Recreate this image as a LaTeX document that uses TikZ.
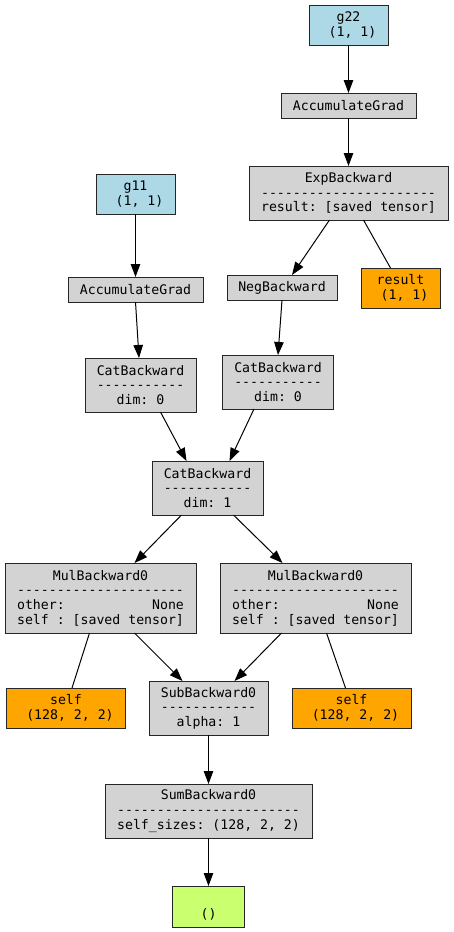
\documentclass[tikz,border=0pt]{standalone}
\usepackage{fontspec}
\setmonofont{DejaVu Sans Mono}
\usepackage{tikz}
\usetikzlibrary{positioning, arrows.meta}

\definecolor{gvgray}{HTML}{D3D3D3}
\definecolor{gvblue}{HTML}{ADD8E6}
\definecolor{gvorange}{HTML}{FFA500}
\definecolor{gvgreen}{HTML}{CAFF70}

\begin{document}
\begin{tikzpicture}[
    font=\ttfamily\fontsize{13.2}{14.6}\selectfont,
    >={Triangle[length=13pt, width=9.5pt]},
    op/.style={
        rectangle, draw=black!85, line width=1pt, fill=gvgray,
        inner sep=0pt, outer sep=0pt, align=center
    },
    leaf/.style={op, fill=gvblue},
    saved/.style={op, fill=gvorange},
    result/.style={op, fill=gvgreen},
    edge/.style={->, line width=1pt},
    link/.style={-, line width=1pt}
]
\useasboundingbox (0pt,0pt) rectangle (453pt,-932pt);

% ============ RIGHT BRANCH (g22) ============
\node[leaf, minimum width=79pt, minimum height=40pt] (g22) at (348.5pt,-25pt)
    {g22\\\phantom{0}(1, 1)};
\node[op, minimum width=135pt, minimum height=25pt, below=48pt of g22] (accR)
    {AccumulateGrad};
\node[op, minimum width=199pt, minimum height=54pt, below=48pt of accR] (exp)
    {ExpBackward\\----------------------\\result: [saved tensor]};
\node[op, minimum width=110pt, minimum height=25pt, below=55pt of exp, xshift=-66.5pt] (neg)
    {NegBackward};
\node[saved, minimum width=79pt, minimum height=40pt, below=48pt of exp, xshift=52pt] (res)
    {result\\\phantom{0}(1, 1)};

% ============ LEFT BRANCH (g11) ============
\node[leaf, minimum width=79pt, minimum height=40pt] (g11) at (135.5pt,-194pt)
    {g11\\\phantom{0}(1, 1)};
\node[op, minimum width=135pt, minimum height=25pt, below=63pt of g11] (accL)
    {AccumulateGrad};

% ============ CONCATENATION ============
\node[op, minimum width=111pt, minimum height=54pt, below=56pt of accL, xshift=5pt] (catL)
    {CatBackward\\-----------\\dim: 0};
\node[op, minimum width=111pt, minimum height=54pt, below=55pt of neg, xshift=-4pt] (catR)
    {CatBackward\\-----------\\dim: 0};
\node[op, minimum width=111pt, minimum height=54pt, below=49pt of catL, xshift=67pt] (cat)
    {CatBackward\\-----------\\dim: 1};

% ============ PRODUCTS AND DIFFERENCE ============
\node[op, minimum width=191pt, minimum height=70pt, below=48pt of cat, xshift=-107pt] (mulL)
    {MulBackward0\\---------------------\\other:\phantom{00000000000}None\\self : [saved tensor]};
\node[op, minimum width=191pt, minimum height=70pt, below=48pt of cat, xshift=108pt] (mulR)
    {MulBackward0\\---------------------\\other:\phantom{00000000000}None\\self : [saved tensor]};
\node[saved, minimum width=119pt, minimum height=40pt, below=55pt of mulL, xshift=-34.5pt] (selfL)
    {self\\\phantom{0}(128, 2, 2)};
\node[op, minimum width=119pt, minimum height=54pt, below=48pt of mulL, xshift=108pt] (sub)
    {SubBackward0\\------------\\alpha: 1};
\node[saved, minimum width=119pt, minimum height=40pt, below=55pt of mulR, xshift=36pt] (selfR)
    {self\\\phantom{0}(128, 2, 2)};

% ============ SUM AND OUTPUT ============
\node[op, minimum width=207pt, minimum height=54pt, below=49pt of sub] (sum)
    {SumBackward0\\-----------------------\\self\_sizes: (128, 2, 2)};
\node[result, minimum width=72pt, minimum height=41pt, below=48pt of sum] (out)
    {\strut\\()};

% ============ EDGES ============
\draw[edge] (g22) -- (accR);
\draw[edge] (accR) -- (exp);
\draw[edge] ([xshift=-19pt]exp.south) -- ([xshift=10pt]neg.north);
\draw[link] ([xshift=15pt]exp.south) -- ([xshift=-10pt]res.north);
\draw[edge] (g11) -- (accL);
\draw[edge] (accL.south) -- ([xshift=-1.5pt]catL.north);
\draw[edge] (neg.south) -- (catR.north);
\draw[edge] ([xshift=20pt]catL.south) -- ([xshift=-21pt]cat.north);
\draw[edge] ([xshift=-24pt]catR.south) -- ([xshift=22pt]cat.north);
\draw[edge] ([xshift=-26pt]cat.south) -- ([xshift=34pt]mulL.north);
\draw[edge] ([xshift=26pt]cat.south) -- ([xshift=-33pt]mulR.north);
\draw[link] ([xshift=-11pt]mulL.south) -- ([xshift=6pt]selfL.north);
\draw[edge] ([xshift=34pt]mulL.south) -- ([xshift=-26pt]sub.north);
\draw[edge] ([xshift=-34pt]mulR.south) -- ([xshift=26pt]sub.north);
\draw[link] ([xshift=11pt]mulR.south) -- ([xshift=-6pt]selfR.north);
\draw[edge] (sub) -- (sum);
\draw[edge] (sum) -- (out);

\end{tikzpicture}
\end{document}
